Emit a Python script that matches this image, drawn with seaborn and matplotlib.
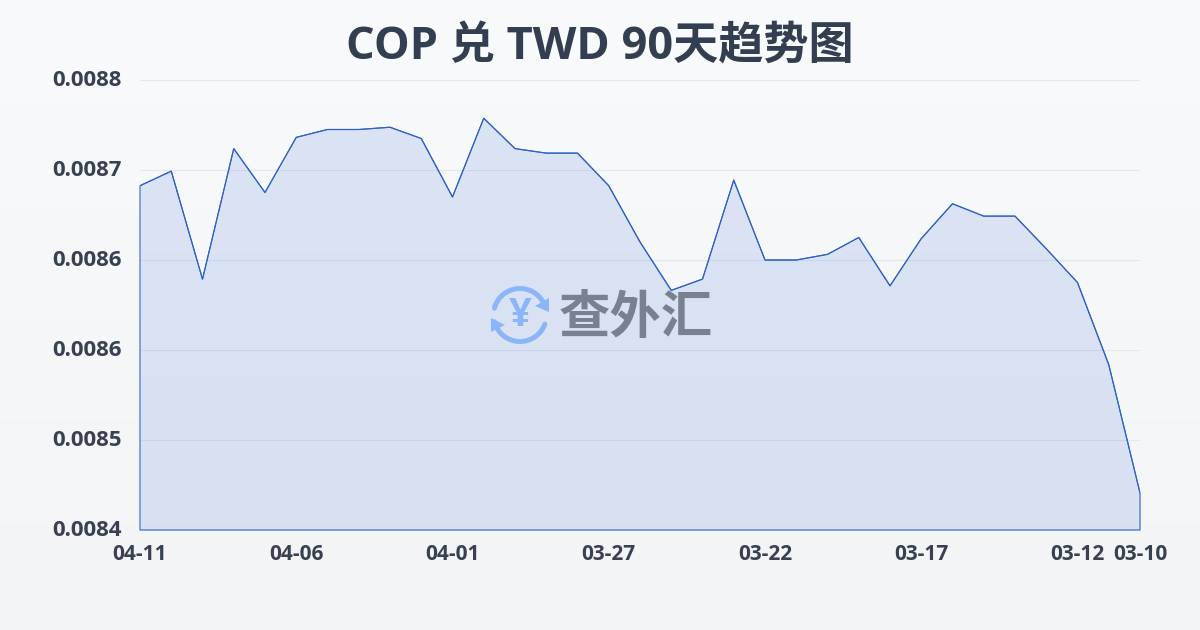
import numpy as np
import pandas as pd
import seaborn as sns
import matplotlib
matplotlib.use("Agg")
import matplotlib.pyplot as plt
from matplotlib.patches import Arc, Polygon
from matplotlib.transforms import ScaledTranslation

TITLE = "COP 兑 TWD 90天趋势图"
WATERMARK = "查外汇"
dates = ["04-11", "04-10", "04-09", "04-08", "04-07", "04-06", "04-05", "04-04", "04-03", "04-02", "04-01",
         "03-31", "03-30", "03-29", "03-28", "03-27", "03-26", "03-25", "03-24", "03-23", "03-22",
         "03-21", "03-20", "03-19", "03-18", "03-17", "03-16", "03-15", "03-14", "03-13", "03-12",
         "03-11", "03-10"]
rates = [0.008706, 0.008719, 0.008623, 0.008739, 0.008700, 0.008749, 0.008756, 0.008756, 0.008758,
         0.008748, 0.008696, 0.008766, 0.008739, 0.008735, 0.008735, 0.008706, 0.008656, 0.008613,
         0.008623, 0.008711, 0.008640, 0.008640, 0.008645, 0.008660, 0.008617, 0.008659, 0.008690,
         0.008679, 0.008679, 0.008650, 0.008620, 0.008547, 0.008433]
y_ticks = [0.0084, 0.00848, 0.00856, 0.00864, 0.00872, 0.0088]
x_tick_dates = ["04-11", "04-06", "04-01", "03-27", "03-22", "03-17", "03-12", "03-10"]

LINE = "#2f62c8"
FILL = "#3a6fd6"
INK = "#374151"
sns.set_theme(style="white")
plt.rcParams["font.family"] = ["Open Sans", "Noto Sans CJK SC", "DejaVu Sans"]

fig = plt.figure(figsize=(12, 6.3), dpi=100)

bg = fig.add_axes([0, 0, 1, 1], zorder=0)
grad = np.linspace(0, 1, 256)[:, None, None]
top = np.array([0xf8, 0xfa, 0xfc])[None, None, :] / 255
bot = np.array([0xf3, 0xf4, 0xf6])[None, None, :] / 255
bg.imshow(top * (1 - grad) + bot * grad, aspect="auto", extent=[0, 1, 0, 1])
bg.axis("off")

ax = fig.add_axes([140 / 1200, 100 / 630, 1000 / 1200, 450 / 630], zorder=1)
ax.patch.set_alpha(0)
df = pd.DataFrame({"date": dates, "rate": rates})
df["pos"] = np.arange(len(df))
ax.fill_between(df["pos"], df["rate"], y_ticks[0], color=FILL, alpha=0.15, lw=0, zorder=2)
ax.fill_between(df["pos"], df["rate"], y_ticks[0], facecolor="none", edgecolor=LINE, lw=0.8, zorder=3, clip_on=False)
sns.lineplot(data=df, x="pos", y="rate", ax=ax, color=LINE, lw=0.85, zorder=3)

ax.set_xlim(0, len(dates) - 1)
ax.set_ylim(y_ticks[0], y_ticks[-1])
ax.set_xlabel("")
ax.set_ylabel("")
ax.set_yticks(y_ticks)
ax.set_yticklabels([f"{v:.4f}" for v in y_ticks], fontsize=16, fontweight="bold", color=INK)
ax.set_xticks([dates.index(d) for d in x_tick_dates])
ax.set_xticklabels(x_tick_dates, fontsize=15, fontweight="bold", color=INK)
ax.grid(axis="y", color="#e2e8f0", lw=0.8, zorder=1)
ax.set_axisbelow(True)
ax.tick_params(axis="y", length=0, pad=13)
ax.tick_params(axis="x", length=7.2, width=0.7, color="#e2e8f0", pad=3)
up = ScaledTranslation(0, 2 / 100, fig.dpi_scale_trans)
for lab in ax.get_yticklabels():
    lab.set_transform(lab.get_transform() + up)
for s in ax.spines.values():
    s.set_visible(False)

fig.text(600 / 1200, 1 - 47.5 / 630, TITLE, ha="center", va="center", fontsize=32.5, fontweight="bold",
         color="#333e50", zorder=5)

# watermark drawn in page pixels
ov = fig.add_axes([0, 0, 1, 1], zorder=4)
ov.set_xlim(0, 1200)
ov.set_ylim(630, 0)
ov.axis("off")
ov.patch.set_alpha(0)
BLUE = "#8ab6f9"
cx, cy, r = 520, 315, 26.5
ov.add_patch(Arc((cx, cy), 2 * r, 2 * r, theta1=195, theta2=330, color=BLUE, lw=3.6, capstyle="round"))
ov.add_patch(Arc((cx, cy), 2 * r, 2 * r, theta1=20, theta2=165, color=BLUE, lw=3.6, capstyle="round"))
ov.add_patch(Polygon([[549, 298], [549, 312], [535, 306]], closed=True, color=BLUE, lw=0))
ov.add_patch(Polygon([[491, 318], [491, 332], [505, 325]], closed=True, color=BLUE, lw=0))
ov.text(cx, cy + 1, "¥", ha="center", va="center", fontsize=29, fontweight="bold", color=BLUE)
ov.text(636, 320, WATERMARK, ha="center", va="center", fontsize=37, fontweight="bold", color="#79808f")

fig.savefig("out.png", dpi=100)
